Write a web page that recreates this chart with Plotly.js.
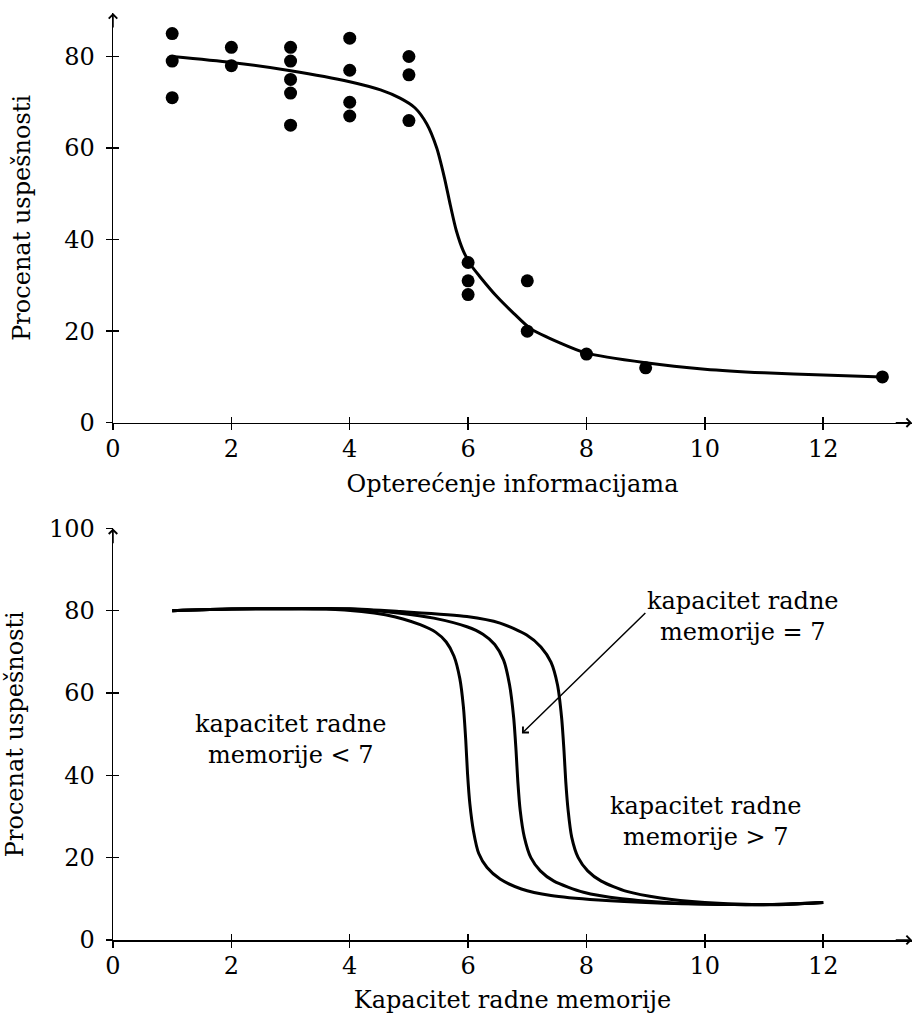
<!DOCTYPE html>
<html>
<head>
<meta charset="utf-8">
<script src="https://cdn.plot.ly/plotly-3.0.1.min.js"></script>
<style>html,body{margin:0;padding:0;background:#fff;}#chart{width:914px;height:1014px;}</style>
</head>
<body>
<div id="chart"></div>
<script>
// ---- Top panel: observed points ----
const obsX = [1,1,1, 2,2, 3,3,3,3,3, 4,4,4,4, 5,5,5, 6,6,6, 7,7, 8, 9, 13];
const obsY = [85,79,71, 82,78, 82,79,75,72,65, 84,77,70,67, 80,76,66, 35,31,28, 31,20, 15, 12, 10];

// ---- Top panel: fitted curve ----
const fitX = [1, 2, 3, 4, 4.52, 4.85, 5.1, 5.3, 5.47, 5.6, 5.7, 5.8, 5.92, 6.05, 6.2, 6.49, 6.77, 7.05, 7.56, 8, 9, 10, 11, 12, 13];
const fitY = [80, 78.7, 76.9, 74.5, 72.7, 70.9, 68.8, 65.3, 60.0, 53.5, 47.5, 42.0, 37.5, 34.4, 31.9, 27.5, 23.9, 20.6, 17.4, 15.2, 13.1, 11.7, 10.9, 10.4, 10];

// ---- Bottom panel: three curves ----
const lowX  = [1, 2, 3, 3.6, 4.2, 4.6, 4.9, 5.19, 5.45, 5.63, 5.76, 5.86, 5.92, 5.96, 5.99, 6.03, 6.09, 6.18, 6.32, 6.54, 6.9, 7.4, 8.2, 9.2, 10.2, 11.1, 12];
const lowY  = [80, 80.4, 80.5, 80.4, 79.8, 79.0, 78.0, 76.6, 74.8, 72.4, 69.0, 63.5, 56.7, 48.6, 40.5, 33.0, 26.5, 21.0, 17.6, 14.8, 12.4, 10.8, 9.7, 9.0, 8.7, 8.6, 9.1];
const eqX   = [1, 2, 3, 4, 4.85, 5.42, 5.98, 6.25, 6.45, 6.6, 6.7, 6.77, 6.81, 6.84, 6.88, 6.95, 7.06, 7.22, 7.45, 7.95, 8.6, 9.5, 10.5, 11.3, 12];
const eqY   = [80, 80.4, 80.5, 80.4, 79.4, 78.2, 76.1, 74.3, 71.8, 68.0, 62.0, 54.0, 46.0, 38.5, 31.5, 25.0, 20.0, 16.8, 14.3, 11.6, 10.0, 9.0, 8.6, 8.7, 9.1];
const highX = [1, 2, 3, 4, 4.85, 5.98, 6.54, 6.99, 7.23, 7.4, 7.51, 7.58, 7.62, 7.65, 7.69, 7.75, 7.86, 8.02, 8.25, 8.68, 9.25, 10, 10.8, 11.5, 12];
const highY = [80, 80.4, 80.5, 80.5, 79.8, 78.6, 77, 74.1, 71.2, 67.5, 62.0, 54.0, 46.0, 38.5, 31.5, 25.0, 20.0, 16.8, 14.3, 11.8, 10.2, 9.1, 8.6, 8.7, 9.1];

// ---- Labels ----
const xTicks = [0, 2, 4, 6, 8, 10, 12];
const yTicksTop = [0, 20, 40, 60, 80];
const yTicksBottom = [0, 20, 40, 60, 80, 100];
const xTitleTop = 'Opterećenje informacijama';
const xTitleBottom = 'Kapacitet radne memorije';
const yTitle = 'Procenat uspešnosti';
const noteLow = 'kapacitet radne<br>memorije &lt; 7';
const noteEq = 'kapacitet radne<br>memorije = 7';
const noteHigh = 'kapacitet radne<br>memorije &gt; 7';

const FONT = 'DejaVu Serif';
const FS = 24;
const XR = [0, 13.5], YR1 = [0, 89.5], YR2 = [0, 100];
const DOM1 = [0.558, 1], DOM2 = [0, 0.444];

const lineStyle = {color: 'black', width: 3, shape: 'spline', smoothing: 0.7};

const traces = [
  {x: fitX, y: fitY, xaxis: 'x', yaxis: 'y', mode: 'lines', line: lineStyle, hoverinfo: 'skip'},
  {x: obsX, y: obsY, xaxis: 'x', yaxis: 'y', mode: 'markers', marker: {color: 'black', size: 13}, cliponaxis: false},
  {x: lowX, y: lowY, xaxis: 'x2', yaxis: 'y2', mode: 'lines', line: lineStyle},
  {x: eqX, y: eqY, xaxis: 'x2', yaxis: 'y2', mode: 'lines', line: lineStyle},
  {x: highX, y: highY, xaxis: 'x2', yaxis: 'y2', mode: 'lines', line: lineStyle},
  {x: [], y: [], xaxis: 'x3', yaxis: 'y3', mode: 'markers'},
  {x: [], y: [], xaxis: 'x4', yaxis: 'y4', mode: 'markers'}
];

function mainX(anchor, title) {
  return {
    anchor: anchor, domain: [0, 1], range: XR, tickvals: xTicks, ticktext: xTicks.map(String),
    ticks: 'outside', ticklen: 6, tickwidth: 1.5, tickcolor: 'black',
    showline: true, linewidth: 1.5, linecolor: 'black', showgrid: false, zeroline: false,
    tickfont: {family: FONT, size: FS, color: 'black'}, ticklabelstandoff: -2,
    title: {text: title, font: {family: FONT, size: FS, color: 'black'}, standoff: 13}
  };
}
function mainY(anchor, dom, range, ticks, standoff) {
  return {
    anchor: anchor, domain: dom, range: range, tickvals: ticks, ticktext: ticks.map(String),
    ticks: 'outside', ticklen: 6, tickwidth: 1.5, tickcolor: 'black',
    showline: true, linewidth: 1.5, linecolor: 'black', showgrid: false, zeroline: false,
    tickfont: {family: FONT, size: FS, color: 'black'}, ticklabelstandoff: 6,
    title: {text: yTitle, font: {family: FONT, size: FS, color: 'black'}, standoff: standoff}
  };
}
function overX(base, anchor) {
  return {overlaying: base, anchor: anchor, range: XR, tickvals: xTicks, ticks: 'inside', ticklen: 6,
    tickwidth: 1.5, tickcolor: 'black', showticklabels: false, showline: false, showgrid: false, zeroline: false};
}
function overY(base, anchor, dom, range, ticks) {
  return {overlaying: base, anchor: anchor, domain: dom, range: range, tickvals: ticks, ticks: 'inside', ticklen: 6,
    tickwidth: 1.5, tickcolor: 'black', showticklabels: false, showline: false, showgrid: false, zeroline: false};
}

function axisArrow(xref, yref, x, y, ax, ay) {
  return {xref: xref, yref: yref, axref: xref, ayref: yref, x: x, y: y, ax: ax, ay: ay,
    text: '', showarrow: true, arrowhead: 4, arrowsize: 1.1, arrowwidth: 1.5, arrowcolor: 'black', standoff: 0};
}
function note(txt, x, y) {
  return {xref: 'x2', yref: 'y2', x: x, y: y, text: txt, showarrow: false, align: 'center',
    font: {family: FONT, size: FS, color: 'black'}};
}

const layout = {
  width: 914, height: 1014,
  margin: {l: 113, r: 2, t: 13, b: 74},
  paper_bgcolor: 'white', plot_bgcolor: 'white',
  showlegend: false,
  font: {family: FONT, size: FS, color: 'black'},
  xaxis: mainX('y', xTitleTop),
  yaxis: mainY('x', DOM1, YR1, yTicksTop, 26),
  xaxis2: mainX('y2', xTitleBottom),
  yaxis2: mainY('x2', DOM2, YR2, yTicksBottom, 18),
  xaxis3: overX('x', 'y3'),
  yaxis3: overY('y', 'x3', DOM1, YR1, yTicksTop),
  xaxis4: overX('x2', 'y4'),
  yaxis4: overY('y2', 'x4', DOM2, YR2, yTicksBottom),
  annotations: [
    axisArrow('x', 'y', 13.5, 0, 13.2, 0),
    axisArrow('x', 'y', 0, 89.5, 0, 86),
    axisArrow('x2', 'y2', 13.5, 0, 13.2, 0),
    axisArrow('x2', 'y2', 0, 100, 0, 96),
    note(noteLow, 3.0, 48.8),
    note(noteEq, 10.65, 78.6),
    note(noteHigh, 10.02, 28.9),
    {xref: 'x2', yref: 'y2', axref: 'x2', ayref: 'y2', x: 6.91, y: 50.2, ax: 9.02, ay: 79.8,
      text: '', showarrow: true, arrowhead: 4, arrowsize: 1.1, arrowwidth: 1.5, arrowcolor: 'black', standoff: 0}
  ]
};

Plotly.newPlot('chart', traces, layout, {displayModeBar: false, staticPlot: true});
</script>
</body>
</html>
